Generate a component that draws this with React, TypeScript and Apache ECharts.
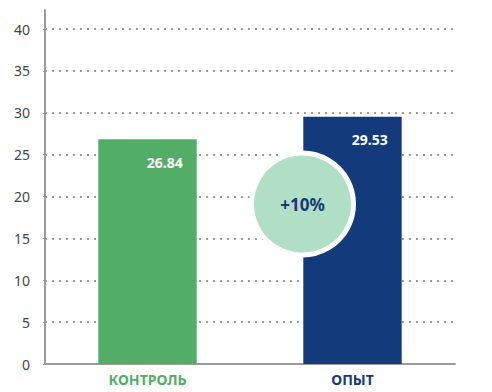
import React, { useEffect, useRef } from "react";
import * as echarts from "echarts";

const categories = ["КОНТРОЛЬ", "ОПЫТ"];
const values = [26.84, 29.53];
const barColors = ["#52ae66", "#133a7a"];
const badgeText = "+10%";
const badgeValue = 19.1;

export default function App() {
  const ref = useRef<HTMLDivElement>(null);
  useEffect(() => {
    if (!ref.current) return;
    const chart = echarts.init(ref.current, null, { renderer: "svg" });
    const font = "'Noto Sans', sans-serif";
    chart.setOption({
      animation: false,
      grid: { left: 45, right: 37, top: 10, bottom: 28 },
      xAxis: {
        type: "category",
        data: categories,
        axisLine: { show: true, lineStyle: { color: "#9a9a9a", width: 2 } },
        axisTick: { show: false },
        axisLabel: {
          margin: 8,
          fontFamily: font,
          fontWeight: "bold",
          fontSize: 14,
          color: (v: string, i: number) => barColors[i],
        },
      },
      yAxis: {
        type: "value",
        min: 0,
        max: 42.27,
        interval: 5,
        axisLine: { show: true, lineStyle: { color: "#9a9a9a", width: 2 } },
        axisTick: { show: true, length: 6, lineStyle: { color: "#9a9a9a", type: [2, 10] } },
        axisLabel: { showMaxLabel: false, margin: 15, fontFamily: font, fontSize: 14, color: "#444" },
        splitLine: { show: true, showMaxLine: false, lineStyle: { color: "#9a9a9a", type: [2, 5], width: 2 } },
      },
      series: [
        {
          type: "bar",
          barWidth: "48%",
          data: values.map((v, i) => ({ value: v, itemStyle: { color: barColors[i] } })),
          label: {
            show: true,
            position: "insideTopRight",
            distance: 14,
            offset: [0, 2],
            color: "#fff",
            fontFamily: font,
            fontWeight: "bold",
            fontSize: 14,
          },
          markPoint: {
            symbol: "circle",
            symbolSize: 102,
            symbolOffset: [-50, 0],
            itemStyle: { color: "#b0dfc5", borderColor: "#fff", borderWidth: 5 },
            label: {
              show: true,
              formatter: badgeText,
              color: "#133a7a",
              fontFamily: font,
              fontWeight: "bold",
              fontSize: 17,
            },
            data: [{ coord: [categories[1], badgeValue] }],
          },
        },
      ],
    });
    return () => chart.dispose();
  }, []);
  return <div ref={ref} style={{ width: 492, height: 392, position: "absolute", left: 0, top: 0 }} />;
}
